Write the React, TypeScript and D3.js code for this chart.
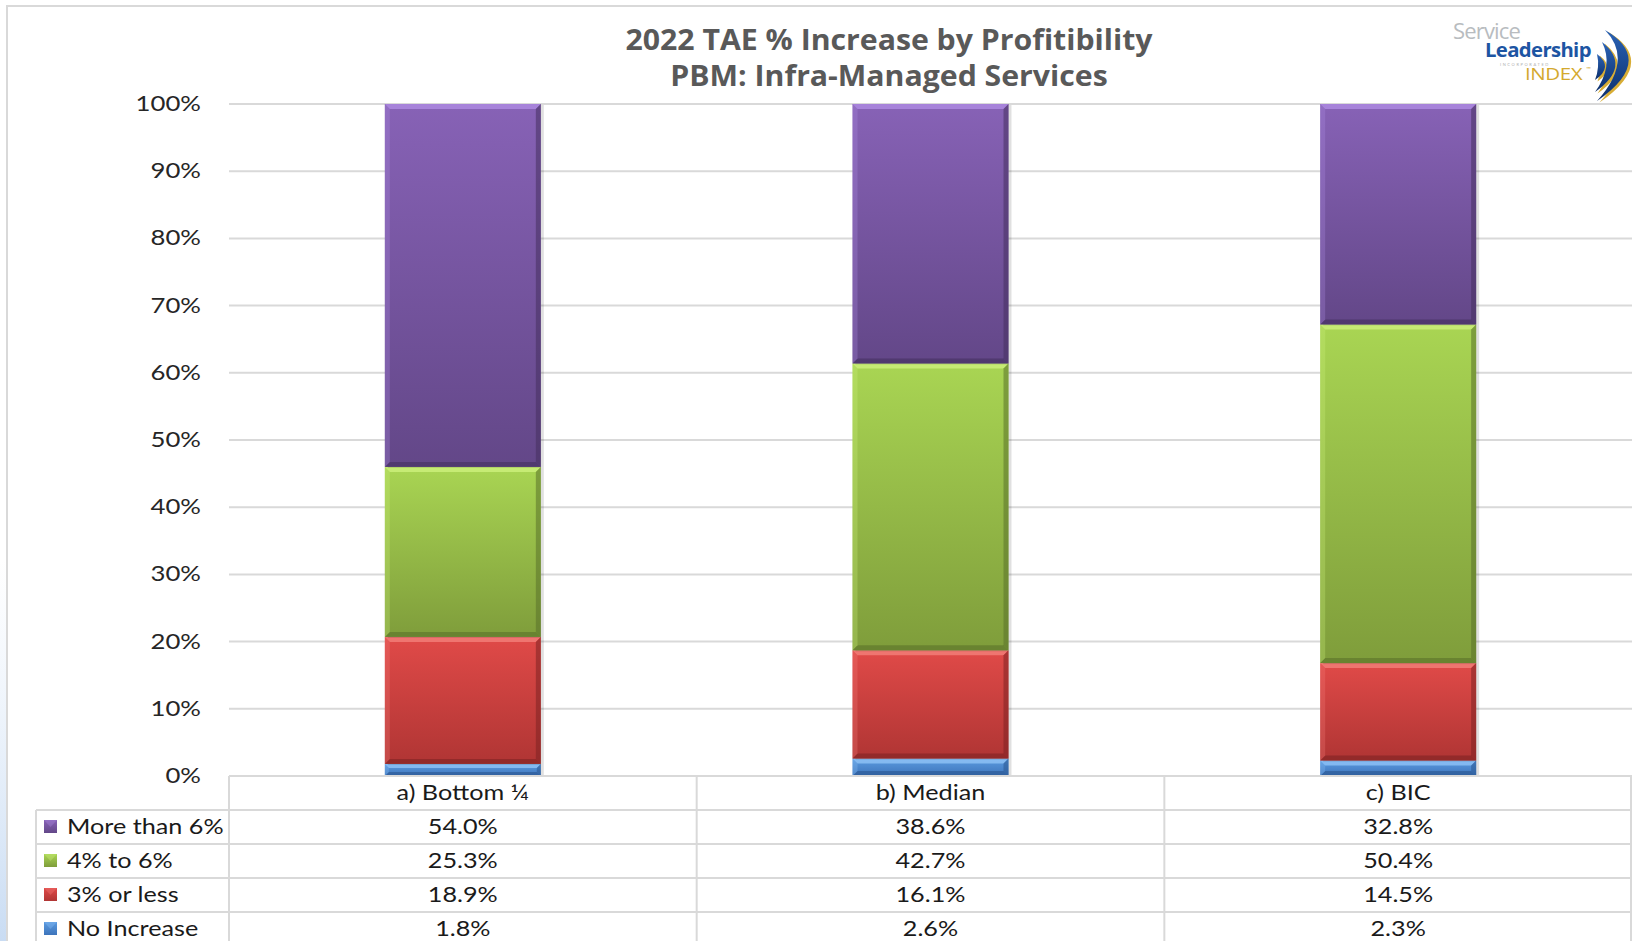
import React from "react";
import * as d3 from "d3";

const categories = ["a) Bottom ¼", "b) Median", "c) BIC"];
const seriesNames = ["No Increase", "3% or less", "4% to 6%", "More than 6%"];
const noIncrease = [1.8, 2.6, 2.3];
const threeOrLess = [18.9, 16.1, 14.5];
const fourToSix = [25.3, 42.7, 50.4];
const moreThanSix = [54.0, 38.6, 32.8];
const yTicks = [0, 10, 20, 30, 40, 50, 60, 70, 80, 90, 100];
const titleLines = ["2022 TAE % Increase by Profitibility", "PBM: Infra-Managed Services"];

const seriesValues = [noIncrease, threeOrLess, fourToSix, moreThanSix];
const palette = [
  { top: "#5b9be0", bot: "#3d74bb", hi: "#8cc0f5", dk: "#2a5590" },
  { top: "#e04a48", bot: "#b03534", hi: "#f27c78", dk: "#7e2323" },
  { top: "#a9d553", bot: "#7f9d3b", hi: "#cbee7a", dk: "#5a7129" },
  { top: "#8762b6", bot: "#634788", hi: "#ad8ae0", dk: "#45305f" },
];

const W = 1632, H = 941;
const plotL = 229, plotR = 1632, plotT = 104, plotB = 776;
const rowH = 34;
const tableL = 36;
const font = "Lato, 'Open Sans', sans-serif";

function SText(props: any) {
  const { x, y, sx = 1, anchor = "start", children, ...rest } = props;
  return (
    <g transform={`translate(${x},${y}) scale(${sx},1)`}>
      <text x={0} y={0} textAnchor={anchor} {...rest}>
        {children}
      </text>
    </g>
  );
}

// crescent: top point, bottom point, outer & inner control x, control y
function crescent(t: number[], b: number[], cxo: number, cxi: number, cy: number) {
  const p = d3.path();
  p.moveTo(t[0], t[1]);
  p.quadraticCurveTo(cxo, cy, b[0], b[1]);
  p.quadraticCurveTo(cxi, cy, t[0], t[1]);
  p.closePath();
  return p.toString();
}

export default function App() {
  const x = d3.scaleBand<string>().domain(categories).range([plotL, plotR]).paddingInner(0).paddingOuter(0);
  const y = d3.scaleLinear().domain([0, 100]).range([plotB, plotT]);
  const barW = 156;

  const table = categories.map((c, i) => {
    const o: any = { cat: c };
    seriesNames.forEach((s, k) => (o[s] = seriesValues[k][i]));
    return o;
  });
  const stacked = d3.stack<any>().keys(seriesNames)(table);
  const rows = [...seriesNames].reverse();

  const swooshes = [
    crescent([1597, 54], [1595, 80], 1614, 1600, 67),
    crescent([1602, 42], [1595, 92], 1632, 1614, 66),
    crescent([1605, 30], [1597, 101], 1656, 1634, 60),
  ];

  return (
    <svg width={W} height={H} style={{ position: "absolute", left: 0, top: 0, background: "#fff" }} fontFamily={font}>
      <defs>
        {palette.map((p, k) => (
          <linearGradient key={k} id={`g${k}`} x1="0" y1="0" x2="0" y2="1">
            <stop offset="0" stopColor={p.top} />
            <stop offset="1" stopColor={p.bot} />
          </linearGradient>
        ))}
        <linearGradient id="leftfade" x1="0" y1="0" x2="0" y2="1">
          <stop offset="0" stopColor="#dbe8f7" stopOpacity="0" />
          <stop offset="1" stopColor="#c9dcf3" stopOpacity="1" />
        </linearGradient>
        <linearGradient id="swoosh1" x1="0" y1="0" x2="0" y2="1">
          <stop offset="0" stopColor="#2a62b5" />
          <stop offset="1" stopColor="#0c2f6b" />
        </linearGradient>
      </defs>
      <rect x={0} y={0} width={W} height={H} fill="#fff" />
      <rect x={0} y={560} width={7} height={H - 560} fill="url(#leftfade)" />
      <rect x={7} y={6} width={W} height={H} fill="none" stroke="#d9d9d9" strokeWidth={2} />

      {/* title */}
      {titleLines.map((t, i) => (
        <SText key={i} x={889} y={50 + i * 36} sx={1.08} anchor="middle" fontSize={28} fontWeight={700} fill="#595959" fontFamily="'Open Sans', sans-serif">
          {t}
        </SText>
      ))}

      {/* logo */}
      <g>
        <SText x={1453} y={39} sx={1.05} fontSize={21} fill="#b8bcc0" fontFamily="'Open Sans', sans-serif" letterSpacing={-0.8}>Service</SText>
        <SText x={1485} y={57} sx={1.07} fontSize={19} fontWeight={700} fill="#1d55a3" fontFamily="'Open Sans', sans-serif" letterSpacing={-0.6}>Leadership</SText>
        <text x={1500} y={66} fontSize={4} fill="#b0b0b0" letterSpacing={1.6}>INCORPORATED</text>
        <SText x={1525} y={80} sx={1.28} fontSize={16} fill="#d4a92e" fontFamily="'Open Sans', sans-serif" letterSpacing={-0.3}>INDEX</SText>
        <text x={1586} y={71} fontSize={6} fill="#d4a92e">™</text>
        {swooshes.map((d, k) => (
          <g key={k}>
            <path d={d} transform="translate(2.5,1.5)" fill="#d8ad35" />
            <path d={d} fill="url(#swoosh1)" />
          </g>
        ))}
      </g>

      {/* gridlines */}
      {yTicks.map((t) => (
        <line key={t} x1={plotL} x2={plotR} y1={y(t)} y2={y(t)} stroke="#d9d9d9" strokeWidth={2} />
      ))}
      {yTicks.map((t) => (
        <SText key={t} x={201} y={y(t) + 7} sx={1.17} anchor="end" fontSize={22} fill="#262626">
          {t}%
        </SText>
      ))}

      {/* bars */}
      {stacked.map((layer, k) =>
        layer.map((d, i) => {
          const cx = (x(categories[i]) as number) + x.bandwidth() / 2;
          const x0 = cx - barW / 2;
          const yTop = y(d[1]);
          const h = y(d[0]) - y(d[1]);
          const p = palette[k];
          const b = Math.min(5, h / 3);
          return (
            <g key={`${k}-${i}`}>
              <rect x={x0 + 3} y={yTop + 1} width={barW} height={h} fill="#000" opacity={0.12} />
              <rect x={x0} y={yTop} width={barW} height={h} fill={`url(#g${k})`} />
              <polygon points={`${x0},${yTop} ${x0 + barW},${yTop} ${x0 + barW - b},${yTop + b} ${x0 + b},${yTop + b}`} fill={p.hi} opacity={0.85} />
              <polygon points={`${x0 + barW},${yTop} ${x0 + barW},${yTop + h} ${x0 + barW - b},${yTop + h - b} ${x0 + barW - b},${yTop + b}`} fill={p.dk} opacity={0.55} />
              <polygon points={`${x0},${yTop + h} ${x0 + barW},${yTop + h} ${x0 + barW - b},${yTop + h - b} ${x0 + b},${yTop + h - b}`} fill={p.dk} opacity={0.6} />
              <polygon points={`${x0},${yTop} ${x0 + b},${yTop + b} ${x0 + b},${yTop + h - b} ${x0},${yTop + h}`} fill={p.hi} opacity={0.3} />
            </g>
          );
        })
      )}

      {/* data table */}
      <g stroke="#d9d9d9" strokeWidth={2}>
        <line x1={plotL} x2={plotR} y1={plotB} y2={plotB} />
        {rows.map((_, r) => (
          <line key={r} x1={tableL} x2={plotR} y1={plotB + rowH * (r + 1)} y2={plotB + rowH * (r + 1)} />
        ))}
        <line x1={tableL} x2={tableL} y1={plotB + rowH} y2={H} />
        {[...categories.map((c) => x(c) as number), plotR - 1].map((xv, i) => (
          <line key={i} x1={xv} x2={xv} y1={plotB} y2={H} />
        ))}
      </g>
      {categories.map((c) => (
        <SText key={c} x={(x(c) as number) + x.bandwidth() / 2} y={plotB + rowH / 2 + 7} sx={1.2} anchor="middle" fontSize={21} fill="#1a1a1a">
          {c}
        </SText>
      ))}
      {rows.map((s, r) => {
        const k = seriesNames.indexOf(s);
        const ry = plotB + rowH * (r + 1) + rowH / 2;
        const p = palette[k];
        return (
          <g key={s}>
            <rect x={44} y={ry - 7} width={13} height={13} fill={`url(#g${k})`} />
            <polygon points={`44,${ry - 7} 57,${ry - 7} 50.5,${ry}`} fill={p.hi} opacity={0.35} />
            <SText x={67} y={ry + 7} sx={1.2} fontSize={21} fill="#1a1a1a">{s}</SText>
            {categories.map((c, i) => (
              <SText key={c} x={(x(c) as number) + x.bandwidth() / 2} y={ry + 7} sx={1.2} anchor="middle" fontSize={21} fill="#1a1a1a">
                {seriesValues[k][i].toFixed(1)}%
              </SText>
            ))}
          </g>
        );
      })}
    </svg>
  );
}
